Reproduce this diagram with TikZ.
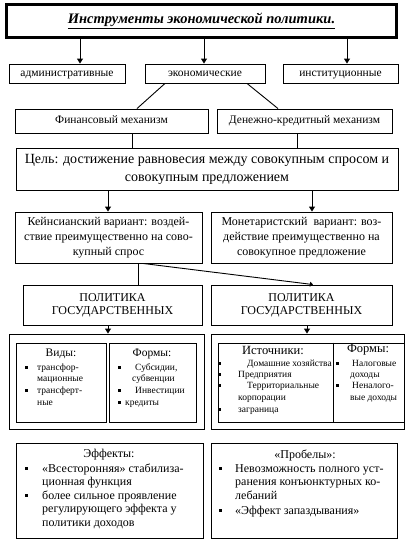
\documentclass[tikz,border=0pt]{standalone}
\usepackage{fontspec}
\setmainfont{Liberation Serif}
\usetikzlibrary{arrows.meta}
\tikzset{
  box/.style={draw, line width=0.9pt, inner sep=0pt, align=center},
  one/.style={text height=8pt, text depth=2.5pt},
  conn/.style={line width=0.9pt},
  arr/.style={line width=0.9pt, -{Triangle[width=6pt,length=5pt]}},
  fA/.style={font=\fontsize{11.5}{13}\selectfont},
  fGoal/.style={font=\fontsize{14}{18}\selectfont},
  fMid/.style={font=\fontsize{12}{15}\selectfont},
  fPol/.style={font=\fontsize{12}{13}\selectfont},
  fBig/.style={font=\fontsize{12}{13.5}\selectfont},
  fHead/.style={font=\fontsize{11.5}{13}\selectfont, inner sep=0pt},
  fSmall/.style={font=\fontsize{9.5}{11}\selectfont},
  itm/.style={anchor=base west, inner sep=0pt},
  bul/.style={fill, minimum size=3pt, inner sep=0pt},
}
\begin{document}
\begin{tikzpicture}[x=1pt, y=-1pt]
\useasboundingbox (0,0) rectangle (411,547);
% title
\node[draw, line width=3pt, minimum width=390pt, minimum height=33pt, inner sep=0pt] (title) at (201.5,21)
  {\fontsize{14.5}{16}\selectfont\bfseries\itshape\underline{Инструменты экономической политики.}};
% row 2
\node[box, one, fA, minimum width=116pt, minimum height=19pt] (adm) at (67,73.5) {административные};
\node[box, one, fA, minimum width=120pt, minimum height=19pt] (eco) at (205,73.5) {экономические};
\node[box, one, fA, minimum width=115pt, minimum height=19pt] (inst) at (340.5,73.5) {институционные};
\coordinate (a1) at (80,0);
\coordinate (a2) at (204,0);
\coordinate (a3) at (347,0);
\draw[arr] (title.south -| a1) -- (adm.north -| a1);
\draw[arr] (title.south -| a2) -- (eco.north -| a2);
\draw[arr] (title.south -| a3) -- (inst.north -| a3);
% mechanisms
\node[box, one, fA, minimum width=193pt, minimum height=24pt] (fin) at (111.5,121) {Финансовый механизм};
\node[box, one, fA, minimum width=175pt, minimum height=24pt] (den) at (304.5,121) {Денежно-кредитный механизм};
\coordinate (e1) at (165,0);
\coordinate (e2) at (247,0);
\coordinate (f1) at (137,0);
\coordinate (f2) at (278,0);
\draw[conn] (eco.south -| e1) -- (fin.north -| f1);
\draw[conn] (eco.south -| e2) -- (den.north -| f2);
% goal
\node[box, fGoal, minimum width=382pt, minimum height=42pt] (goal) at (207,169)
  {Цель: достижение равновесия между совокупным спросом и\\совокупным предложением};
\coordinate (g1) at (132,0);
\coordinate (g2) at (297,0);
\draw[conn] (fin.south -| g1) -- (goal.north -| g1);
\draw[conn] (den.south -| g2) -- (goal.north -| g2);
% variants
\node[box, fMid, minimum width=187pt, minimum height=51pt] (keyn) at (108.5,237.5)
  {Кейнсианский вариант: воздей-\\ствие преимущественно на сово-\\купный спрос};
\node[box, fMid, minimum width=181pt, minimum height=51pt] (mon) at (301.5,237.5)
  {Монетаристский\ \ вариант: воз-\\действие преимущественно на\\совокупное предложение};
\coordinate (k1) at (108,0);
\coordinate (k2) at (312,0);
\draw[arr] (goal.south -| k1) -- (keyn.north -| k1);
\draw[arr] (goal.south -| k2) -- (mon.north -| k2);
% policies
\node[box, fPol, minimum width=179pt, minimum height=40pt] (pol1) at (112.5,305)
  {ПОЛИТИКА\\ГОСУДАРСТВЕННЫХ};
\node[box, fPol, minimum width=181pt, minimum height=40pt] (pol2) at (301.5,305)
  {ПОЛИТИКА\\ГОСУДАРСТВЕННЫХ};
\coordinate (p1) at (138,0);
\coordinate (p2) at (143,0);
\coordinate (p3) at (313,0);
\draw[conn] (keyn.south -| p1) -- (pol1.north -| p1);
\draw[line width=0.9pt, -{Triangle[width=5pt,length=3pt]}] (keyn.south -| p2) -- (pol2.north -| p3);
% outer boxes
\node[box, minimum width=195pt, minimum height=95pt] (out1) at (106.5,381.5) {};
\node[box, minimum width=193pt, minimum height=95pt] (out2) at (307.5,381.5) {};
\coordinate (o1) at (108,0);
\coordinate (o2) at (307,0);
\draw[arr] (pol1.south -| o1) -- (out1.north -| o1);
\draw[arr] (pol2.south -| o2) -- (out2.north -| o2);
% inner left
\node[box, minimum width=90pt, minimum height=79pt] (vid) at (61,382.5) {};
\node[box, minimum width=87pt, minimum height=79pt] (frm1) at (152.5,382.5) {};
\node[fHead] (vidh) at (61,354) {Виды:};
\node[bul] (vb1) at (26,367) {};
\node[itm, fSmall] (vt1) at (37,370) {трансфор-};
\node[itm, fSmall] (vt2) at (37,381.5) {мационные};
\node[bul] (vb2) at (26,390) {};
\node[itm, fSmall] (vt3) at (37,393) {трансферт-};
\node[itm, fSmall] (vt4) at (37,405) {ные};
\node[fHead] (frm1h) at (152,354) {Формы:};
\node[bul] (fb1) at (119,367) {};
\node[itm, fSmall] (ft1) at (135,370) {Субсидии,};
\node[itm, fSmall] (ft2) at (132,381.5) {субвенции};
\node[bul] (fb2) at (119,390) {};
\node[itm, fSmall] (ft3) at (135,393) {Инвестиции};
\node[bul] (fb3) at (119,402) {};
\node[itm, fSmall] (ft4) at (125,405) {кредиты};
% inner right
\node[box, minimum width=186pt, minimum height=79pt] (src) at (311,382.5) {};
\coordinate (dv) at (333,0);
\draw[conn] (src.north -| dv) -- (src.south -| dv);
\node[fHead, font=\fontsize{12.5}{14}\selectfont] (srch) at (273,350) {Источники:};
\node[bul] (sb1) at (219,363) {};
\node[itm, fSmall] (st1) at (247,366) {Домашние хозяйства};
\node[bul] (sb2) at (219,374.5) {};
\node[itm, fSmall] (st2) at (238,377.5) {Предприятия};
\node[bul] (sb3) at (219,385.5) {};
\node[itm, fSmall] (st3) at (247,388.5) {Территориальные};
\node[itm, fSmall] (st4) at (238,400) {корпорации};
\node[bul] (sb4) at (219,409) {};
\node[itm, fSmall] (st5) at (238,412) {заграница};
\node[fHead, font=\fontsize{12.5}{14}\selectfont] (frm2h) at (368,350) {Формы:};
\node[bul] (gb1) at (337,363) {};
\node[itm, fSmall] (gt1) at (352,366) {Налоговые};
\node[itm, fSmall] (gt2) at (350,377.5) {доходы};
\node[bul] (gb2) at (337,385.5) {};
\node[itm, fSmall] (gt3) at (352,388.5) {Неналого-};
\node[itm, fSmall] (gt4) at (350,400) {вые доходы};
% bottom boxes
\node[box, minimum width=187pt, minimum height=95pt] (eff) at (109.5,490.5) {};
\node[box, minimum width=186pt, minimum height=95pt] (gap) at (304,490.5) {};
\node[fHead, fBig] (effh) at (109,455) {Эффекты:};
\node[bul] (eb1) at (26,468) {};
\node[itm, fBig] (et1) at (42,472) {«Всесторонняя» стабилиза-};
\node[itm, fBig] (et2) at (42,485.5) {ционная функция};
\node[bul] (eb2) at (26,495) {};
\node[itm, fBig] (et3) at (42,499) {более сильное проявление};
\node[itm, fBig] (et4) at (42,512.5) {регулирующего эффекта у};
\node[itm, fBig] (et5) at (42,526) {политики доходов};
\node[fHead, fBig] (gaph) at (305,455) {«Пробелы»:};
\node[bul] (pb1) at (220,468) {};
\node[itm, fBig] (pt1) at (235,472) {Невозможность полного уст-};
\node[itm, fBig] (pt2) at (235,485.5) {ранения конъюнктурных ко-};
\node[itm, fBig] (pt3) at (235,499) {лебаний};
\node[bul] (pb2) at (220,510) {};
\node[itm, fBig] (pt4) at (235,514) {«Эффект запаздывания»};
\end{tikzpicture}
\end{document}
